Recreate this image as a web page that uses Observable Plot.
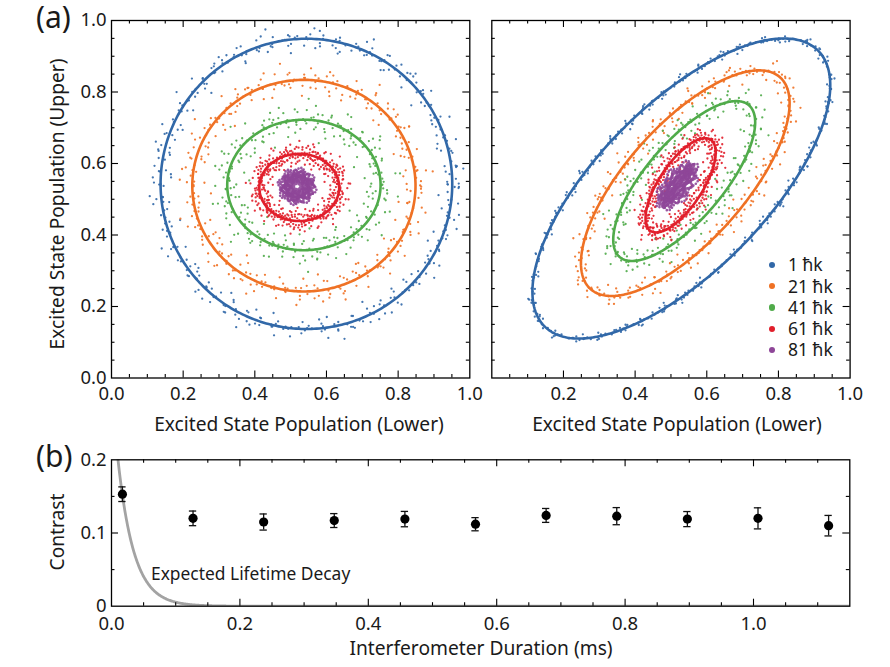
<!DOCTYPE html>
<html><head><meta charset="utf-8">
<script src="https://cdn.jsdelivr.net/npm/d3@7"></script>
<script src="https://cdn.jsdelivr.net/npm/@observablehq/plot@0.6"></script>
<style>
body{margin:0;background:#fff;}
#fig{position:relative;width:890px;height:667px;font-family:"Noto Sans",sans-serif;color:#1a1a1a;overflow:hidden;background:#fff}
#fig svg{position:absolute;overflow:visible}
.t{position:absolute;white-space:nowrap;line-height:1}
.c{transform:translate(-50%,-50%)}
.r{transform:translate(-50%,-50%) rotate(-90deg)}
</style></head><body><div id="fig"></div>
<script>
// ---------- data ----------
const series = ["1 ħk", "21 ħk", "41 ħk", "61 ħk", "81 ħk"];
const seriesColors = ["#3168a8", "#ef7124", "#50ab4a", "#e11f2b", "#8e4698"];

// panel (a) left: fitted ellipses (center, semi-axes, tilt) and scatter spread
const leftCx = [0.544, 0.537, 0.537, 0.524, 0.518];
const leftCy = [0.543, 0.538, 0.540, 0.533, 0.536];
const leftA = [0.407, 0.3115, 0.214, 0.1115, 0.032];
const leftB = [0.406, 0.296, 0.1825, 0.094, 0.030];
const leftTilt = [0, 0, 0, 0, 0];
const leftSpread = [0.016, 0.02, 0.024, 0.015, 0.009];

// panel (a) right
const rightCx = [0.529, 0.540, 0.537, 0.527, 0.518];
const rightCy = [0.530, 0.545, 0.551, 0.539, 0.5385];
const rightA = [0.5426, 0.397, 0.2785, 0.1526, 0.055];
const rightB = [0.2333, 0.1636, 0.108, 0.0606, 0.016];
const rightTilt = [45.4, 48.25, 49.7, 56.7, 52];
const rightSpread = [0.006, 0.014, 0.018, 0.014, 0.011];

const popTicksLeft = [0.0, 0.2, 0.4, 0.6, 0.8, 1.0];
const popTicksRight = [0.2, 0.4, 0.6, 0.8, 1.0];

// panel (b)
const durations = [0.017, 0.127, 0.237, 0.347, 0.457, 0.567, 0.677, 0.787, 0.897, 1.007, 1.117];
const contrast = [0.153, 0.120, 0.115, 0.117, 0.119, 0.112, 0.124, 0.123, 0.119, 0.120, 0.110];
const contrastErr = [0.010, 0.010, 0.011, 0.0095, 0.0105, 0.009, 0.0095, 0.0117, 0.0103, 0.0144, 0.014];
const durationTicks = [0.0, 0.2, 0.4, 0.6, 0.8, 1.0];
const contrastTicks = [0, 0.1, 0.2];
const lifetimeAmplitude = 0.30, lifetimeTauMs = 0.025;

// ---------- helpers ----------
const fig = document.getElementById("fig");
const FONT = "Noto Sans";
const TICK_FS = 18.5, TITLE_FS = 19.2;

// ellipse outline; optional radial band offset (data units) varying along the phase
function ellipse(cx, cy, a, b, tiltDeg, n = 240, off = () => 0) {
  const t = tiltDeg * Math.PI / 180, c = Math.cos(t), s = Math.sin(t);
  return d3.range(n + 1).map(k => {
    const p = 2 * Math.PI * k / n, d = off(p);
    const u = Math.max(a + d, 0.003) * Math.cos(p), v = Math.max(b + d, 0.003) * Math.sin(p);
    return {x: cx + u * c - v * s, y: cy + u * s + v * c};
  });
}
function perimeter(a, b) { return Math.PI * (3 * (a + b) - Math.sqrt((3 * a + b) * (a + 3 * b))); }

function frameTicks(xMaj, xMin, yMaj, yMin, W, H) {
  const st = {stroke: "#000", strokeWidth: 1.1};
  const M = 7, m = 3.5, out = [];
  for (const [v, len] of [[xMaj, M], [xMin, m]]) {
    out.push(Plot.ruleX(v, {x: d => d, insetTop: H - len, ...st}));
    out.push(Plot.ruleX(v, {x: d => d, insetBottom: H - len, ...st}));
  }
  for (const [v, len] of [[yMaj, M], [yMin, m]]) {
    out.push(Plot.ruleY(v, {y: d => d, insetRight: W - len, ...st}));
    out.push(Plot.ruleY(v, {y: d => d, insetLeft: W - len, ...st}));
  }
  return out;
}

// scatter band drawn as dotted strokes around each fitted ellipse
const ringK = [-2.0, -1.3, -0.7, -0.25, 0.25, 0.7, 1.3, 2.0];
const ringW = [0.25, 0.5, 0.8, 1.0, 1.0, 0.8, 0.5, 0.25];
const ringWave = [7, 11, 5, 13, 9, 6, 15, 8];

function ellipsePanel(P) {
  const W = 358.3, H = 357.5;
  const marks = [];
  series.forEach((s, i) => {
    ringK.forEach((k, j) => {
      const sp = P.spread[i];
      const off = p => sp * (k + 0.55 * Math.sin(ringWave[j] * p + 1.7 * j + i));
      const pts = ellipse(P.cx[i], P.cy[i], P.A[i], P.B[i], P.tilt[i], 360, off);
      const a = Math.max(P.A[i] + k * sp, 0.004), b = Math.max(P.B[i] + k * sp, 0.004);
      const per = perimeter(a, b) * 358;
      const n = Math.max(4, Math.round(P.base[i] * ringW[j]));
      const gap = per / n;
      marks.push(Plot.line(pts, {x: "x", y: "y", stroke: seriesColors[i], strokeWidth: P.dot[i],
        strokeLinecap: "round", strokeDasharray: `0 ${gap.toFixed(2)}`,
        strokeDashoffset: (gap * (0.13 + 0.37 * j)).toFixed(2), strokeOpacity: 0.9}));
    });
  });
  series.forEach((s, i) => {
    marks.push(Plot.line(ellipse(P.cx[i], P.cy[i], P.A[i], P.B[i], P.tilt[i], 360),
      {x: "x", y: "y", stroke: seriesColors[i], strokeWidth: 2.6}));
  });
  const maj = [0.2, 0.4, 0.6, 0.8], mn = d3.range(0.05, 1, 0.05).filter(v => Math.abs(v * 5 - Math.round(v * 5)) > 1e-6);
  marks.push(...frameTicks(maj, mn, maj, mn, W, H));
  marks.push(Plot.frame({stroke: "#000", strokeWidth: 1.3}));
  marks.push(Plot.axisX(P.xTicks, {anchor: "bottom", tickSize: 0, tickPadding: 9, tickFormat: d3.format(".1f"), fontSize: TICK_FS, label: null}));
  if (P.yTicks) marks.push(Plot.axisY(P.yTicks, {anchor: "left", tickSize: 0, tickPadding: 5, tickFormat: d3.format(".1f"), fontSize: TICK_FS, label: null}));
  const svg = Plot.plot({
    width: 480, height: 410, marginLeft: P.ml, marginRight: 480 - P.ml - W, marginTop: 20, marginBottom: 410 - 20 - H,
    x: {domain: [0, 1]}, y: {domain: [0, 1], ...(P.yTicks ? {} : {axis: null})},
    style: {fontFamily: FONT, fontSize: TICK_FS + "px", color: "#1a1a1a", background: "transparent"},
    marks
  });
  svg.style.left = P.left + "px"; svg.style.top = "0px";
  fig.appendChild(svg);
}

ellipsePanel({cx: leftCx, cy: leftCy, A: leftA, B: leftB, tilt: leftTilt, spread: leftSpread,
  base: [70, 60, 50, 80, 150], dot: [2.3, 2.3, 2.3, 2.3, 2.7],
  xTicks: popTicksLeft, yTicks: popTicksLeft, left: 0, ml: 111});
ellipsePanel({cx: rightCx, cy: rightCy, A: rightA, B: rightB, tilt: rightTilt, spread: rightSpread,
  base: [80, 60, 50, 80, 170], dot: [2.3, 2.3, 2.3, 2.3, 2.7],
  xTicks: popTicksRight, yTicks: null, left: 380, ml: 111.3});

// panel (b)
{
  const W = 738.3, H = 146.4;
  const rows = durations.map((t, i) => ({t, c: contrast[i], e: contrastErr[i]}));
  const curve = d3.range(0, 1.15, 0.001).map(t => ({t, c: lifetimeAmplitude * Math.exp(-t / lifetimeTauMs)}));
  const xMin = d3.range(0.05, 1.15, 0.05).filter(v => Math.abs(v * 5 - Math.round(v * 5)) > 1e-6);
  const xMaj = [0.2, 0.4, 0.6, 0.8, 1.0];
  const svg = Plot.plot({
    width: 890, height: 227, marginLeft: 111, marginRight: 890 - 111 - W, marginTop: 19.3, marginBottom: 227 - 19.3 - H,
    x: {domain: [0, 1.15]}, y: {domain: [0, 0.2]},
    style: {fontFamily: FONT, fontSize: TICK_FS + "px", color: "#1a1a1a", background: "transparent"},
    marks: [
      Plot.line(curve, {x: "t", y: "c", stroke: "#a3a3a3", strokeWidth: 2.8, clip: true}),
      Plot.ruleX(rows, {x: "t", y1: d => d.c - d.e, y2: d => d.c + d.e, stroke: "#111", strokeWidth: 1.3}),
      Plot.ruleY(rows, {y: d => d.c + d.e, x1: d => d.t - 0.0057, x2: d => d.t + 0.0057, stroke: "#111", strokeWidth: 1.3}),
      Plot.ruleY(rows, {y: d => d.c - d.e, x1: d => d.t - 0.0057, x2: d => d.t + 0.0057, stroke: "#111", strokeWidth: 1.3}),
      Plot.dot(rows, {x: "t", y: "c", r: 4.6, fill: "#000"}),
      ...frameTicks(xMaj, xMin, [0.1], [0.05, 0.15], W, H),
      Plot.frame({stroke: "#000", strokeWidth: 1.3}),
      Plot.axisX(durationTicks, {anchor: "bottom", tickSize: 0, tickPadding: 11, tickFormat: d3.format(".1f"), fontSize: TICK_FS, label: null}),
      Plot.axisY(contrastTicks, {anchor: "left", tickSize: 0, tickPadding: 5, tickFormat: d => String(d), fontSize: TICK_FS, label: null})
    ]
  });
  svg.style.left = "0px"; svg.style.top = "440px";
  fig.appendChild(svg);
}

// ---------- texts ----------
function addText(txt, x, y, cls, size, extra = "") {
  const d = document.createElement("div");
  d.className = "t " + cls;
  d.textContent = txt;
  d.style.cssText += `left:${x}px;top:${y}px;font-size:${size}px;${extra}`;
  fig.appendChild(d);
  return d;
}
addText("(a)", 36, 2, "", 30);
addText("(b)", 36, 441, "", 30);
addText("Excited State Population (Lower)", 299, 424, "c", TITLE_FS);
addText("Excited State Population (Lower)", 677, 424, "c", TITLE_FS);
addText("Excited State Population (Upper)", 57, 204, "r", TITLE_FS);
addText("Contrast", 57, 532, "r", TITLE_FS);
addText("Interferometer Duration (ms)", 481, 648, "c", TITLE_FS);
addText("Expected Lifetime Decay", 151, 564.5, "", 17.4);

// legend: colored markers + one text block
series.forEach((s, i) => {
  const y = 265 + i * 21.25;
  const dot = document.createElement("div");
  dot.style.cssText = `position:absolute;left:${772 - 3.2}px;top:${y - 3.2}px;width:6.4px;height:6.4px;border-radius:50%;background:${seriesColors[i]}`;
  fig.appendChild(dot);
});
const leg = document.createElement("div");
leg.className = "t";
leg.style.cssText += `left:788px;top:${265 - 10.6}px;font-size:17.5px;line-height:21.25px;white-space:pre`;
leg.textContent = series.join("\n");
fig.appendChild(leg);
</script></body></html>
